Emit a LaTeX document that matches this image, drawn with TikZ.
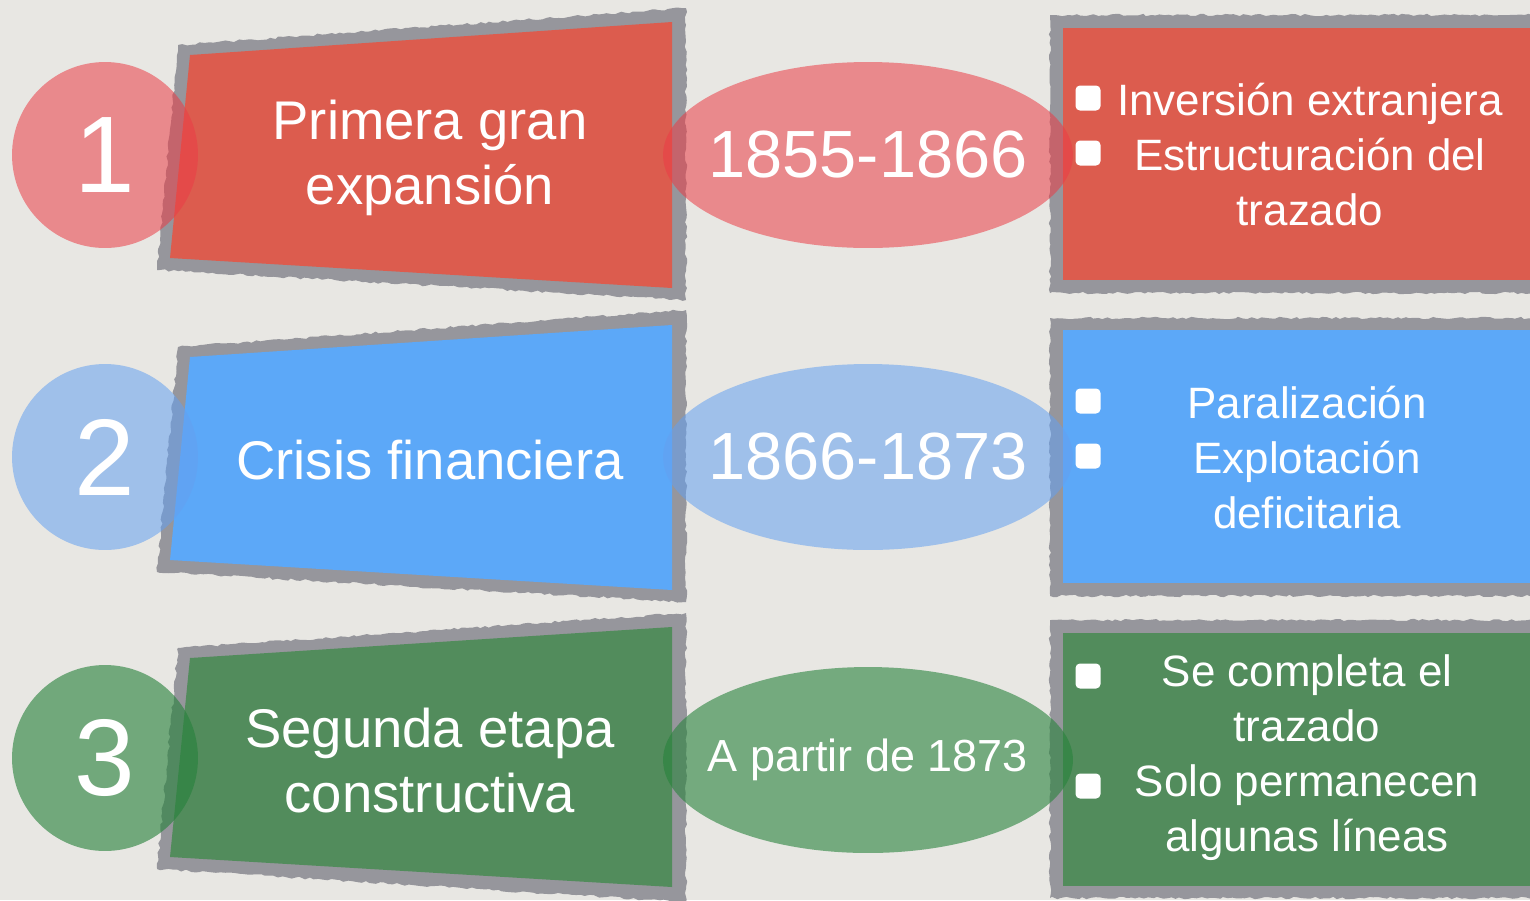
\documentclass[tikz,border=0pt]{standalone}
\usepackage{fontspec}
\setmainfont{Liberation Sans}
\usepackage{tikz}
\usetikzlibrary{shapes.geometric, decorations.pathmorphing}
\definecolor{paper}{RGB}{232,231,227}
\definecolor{framegray}{RGB}{150,150,156}
\definecolor{redbox}{RGB}{220,92,78}
\definecolor{bluebox}{RGB}{92,168,248}
\definecolor{greenbox}{RGB}{82,140,92}
\definecolor{redtint}{RGB}{235,60,70}
\definecolor{bluetint}{RGB}{100,160,240}
\definecolor{greentint}{RGB}{40,130,60}
\tikzstyle{roughframe} = [fill=framegray, decorate, decoration={random steps, segment length=2.5pt, amplitude=0.7pt}]
\tikzstyle{badge} = [circle, minimum size=3.72cm, inner sep=0pt, fill opacity=0.55, text opacity=1, text=white, font=\fontsize{62}{62}\selectfont]
\tikzstyle{period} = [ellipse, minimum width=8.2cm, minimum height=3.72cm, inner xsep=-0.5cm, inner ysep=0pt, fill opacity=0.55, text opacity=1, text=white, font=\fontsize{38}{38}\selectfont]
\tikzstyle{stage} = [align=center, text=white, font=\fontsize{31}{37}\selectfont]
\tikzstyle{facts} = [align=center, text=white, font=\fontsize{25}{31.3}\selectfont]
\tikzstyle{bulletsq} = [rectangle, rounded corners=2.5pt, fill=white, minimum size=0.5cm, inner sep=0pt]

\begin{document}
\begin{tikzpicture}[x=0.02cm, y=-0.02cm]

		% Paper
		\useasboundingbox (0,0) rectangle (1530,900);
		\fill[paper] (0,0) rectangle (1530,900);

		% Frames and boxes for stage 1
		\path[roughframe] (178,45) -- (686,8) -- (686,300) -- (157,270) -- cycle;
		\fill[redbox] (190,55) -- (672,22) -- (672,288) -- (170,258) -- cycle;
		\path[roughframe] (1050,15) -- (1540,15) -- (1540,293) -- (1050,293) -- cycle;
		\fill[redbox] (1063,28) rectangle (1540,280);

		% Frames and boxes for stage 2
		\path[roughframe] (178,347) -- (686,310) -- (686,602) -- (157,572) -- cycle;
		\fill[bluebox] (190,357) -- (672,325) -- (672,590) -- (170,560) -- cycle;
		\path[roughframe] (1050,318) -- (1540,318) -- (1540,596) -- (1050,596) -- cycle;
		\fill[bluebox] (1063,330) rectangle (1540,583);

		% Frames and boxes for stage 3
		\path[roughframe] (178,648) -- (686,613) -- (686,902) -- (157,869) -- cycle;
		\fill[greenbox] (190,658) -- (672,627) -- (672,887) -- (170,857) -- cycle;
		\path[roughframe] (1050,620) -- (1540,620) -- (1540,898) -- (1050,898) -- cycle;
		\fill[greenbox] (1063,633) rectangle (1540,886);

		% Numbers and periods
		\node (one) [badge, fill=redtint] at (105,155) {1};
		\node (two) [badge, fill=bluetint] at (105,457) {2};
		\node (three) [badge, fill=greentint, fill opacity=0.62] at (105,758) {3};
		\node (per1) [period, fill=redtint] at (868,155) {1855-1866};
		\node (per2) [period, fill=bluetint] at (868,457) {1866-1873};
		\node (per3) [period, fill=greentint, fill opacity=0.6, font=\fontsize{25.6}{25.6}\selectfont] at (868,760) {A partir de 1873};

		% Stage names
		\node (stage1) [stage] at (430,158) {Primera gran\\expansión};
		\node (stage2) [stage] at (430,460) {Crisis financiera};
		\node (stage3) [stage] at (430,761) {Segunda etapa\\constructiva};

		% Facts
		\node (facts1) [facts] at (1310,155) {Inversión extranjera\\Estructuración del\\trazado};
		\node (facts2) [facts] at (1307,458) {Paralización\\Explotación\\deficitaria};
		\node (facts3) [facts] at (1307,758) {Se completa el\\trazado\\Solo permanecen\\algunas líneas};

		% Bullets
		\node (b11) [bulletsq] at (1088,98) {};
		\node (b12) [bulletsq] at (1088,153) {};
		\node (b21) [bulletsq] at (1088,401) {};
		\node (b22) [bulletsq] at (1088,456) {};
		\node (b31) [bulletsq] at (1088,676) {};
		\node (b32) [bulletsq] at (1088,786) {};

	\end{tikzpicture}
\end{document}
